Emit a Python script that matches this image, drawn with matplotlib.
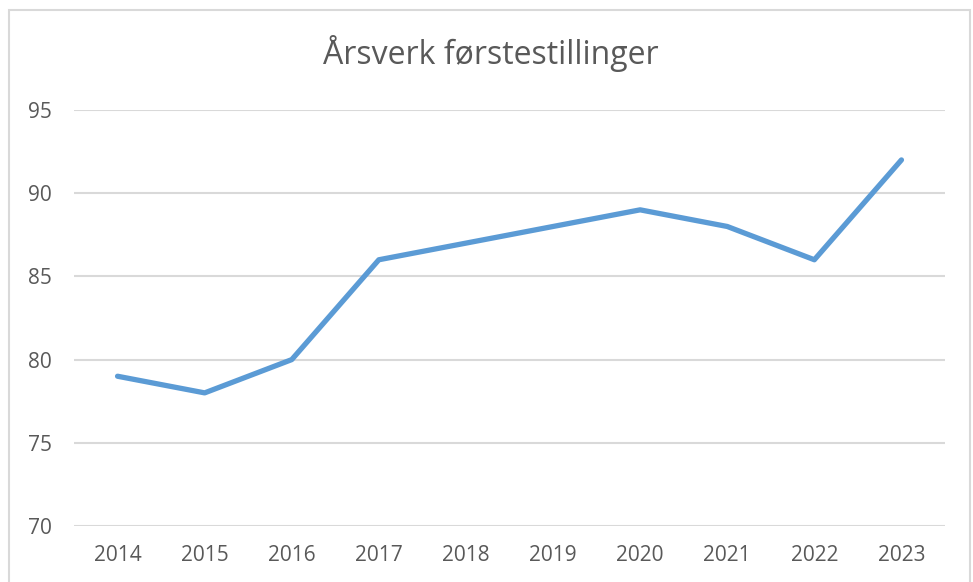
import matplotlib
matplotlib.use("Agg")
import matplotlib.pyplot as plt
from matplotlib.patches import Rectangle

years = ["2014", "2015", "2016", "2017", "2018", "2019", "2020", "2021", "2022", "2023"]
values = [79, 78, 80, 86, 87, 88, 89, 88, 86, 92]
yticks = [70, 75, 80, 85, 90, 95]
title = "Årsverk førstestillinger"

plt.rcParams['font.family'] = ['Liberation Sans Narrow', 'Open Sans', 'DejaVu Sans']
gray = "#595959"

fig = plt.figure(figsize=(9.73, 5.82), dpi=100)
fig.patch.set_facecolor("white")
fig.add_artist(Rectangle((9/973, -0.05), (970-9)/973, 1.05 - 10/582 + 0.0,
                         transform=fig.transFigure, fill=False,
                         edgecolor="#D9D9D9", linewidth=1.5))

ax = fig.add_axes([74/973, 56/582, (945-74)/973, (526-110)/582])
x = list(range(len(years)))
ax.plot(x, values, color="#5B9BD5", linewidth=3.8, solid_capstyle="round", solid_joinstyle="round")
ax.set_xlim(-0.5, len(years) - 0.5)
ax.set_ylim(70, 95)
ax.set_yticks(yticks)
ax.set_xticks(x)
ax.set_xticklabels(years)
for s in ax.spines.values():
    s.set_visible(False)
ax.grid(axis="y", color="#D9D9D9", linewidth=1.5)
ax.set_axisbelow(True)
ax.tick_params(axis="both", length=0, colors=gray, labelsize=15)
ax.tick_params(axis="x", pad=14)
ax.tick_params(axis="y", pad=16)
fig.text(491/973, 1 - 53/582, title, ha="center", va="center", fontsize=23, color=gray)

fig.savefig("out.png", dpi=100)
